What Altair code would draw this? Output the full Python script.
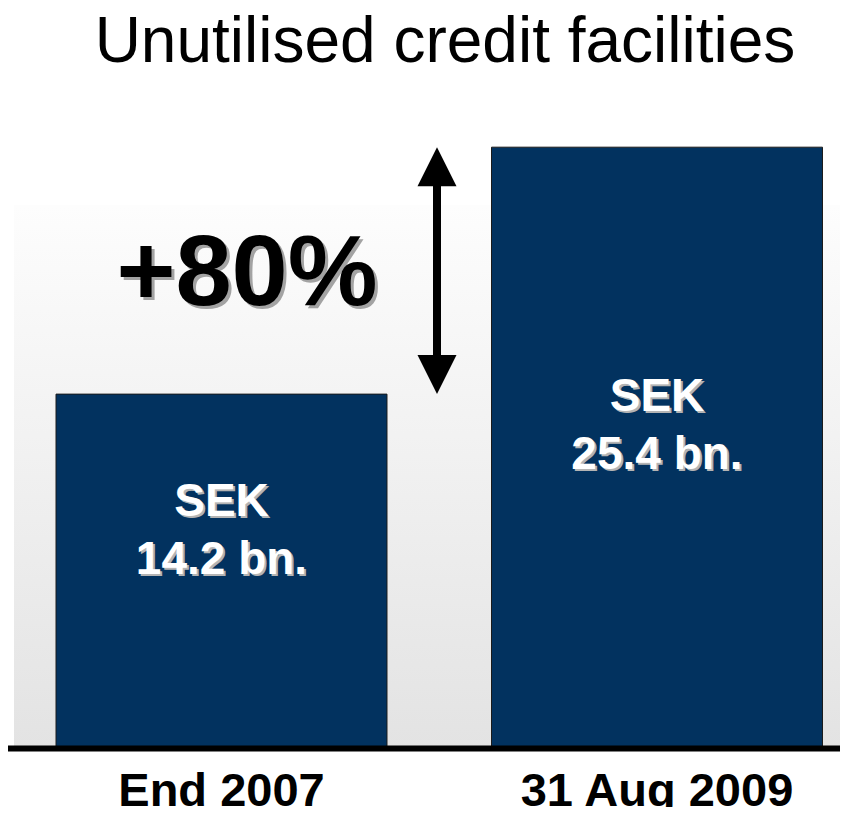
import altair as alt
import pandas as pd

# ---- data ----
CATEGORIES = ["End 2007", "31 Aug 2009"]
VALUES = [14.2, 25.4]
BAR_LABELS = ["SEK\n14.2 bn.", "SEK\n25.4 bn."]
CHANGE_LABEL = "+80%"
TITLE = "Unutilised credit facilities"

# the reference bars are not drawn to a zero-based scale; this domain reproduces their heights
Y_MIN, Y_MAX = -1.85, 27.54

# ---- layout / style ----
W, H = 832, 648
FONT = "Liberation Sans"
BAR_COLOR = "#02325f"
LABEL_DY = {"End 2007": 108, "31 Aug 2009": 250}

bars_df = pd.DataFrame({"period": CATEGORIES, "value": VALUES, "label": BAR_LABELS})
arrow_df = pd.DataFrame({
    "top": [max(VALUES)],
    "bottom": [min(VALUES)],
    "mid": [sum(VALUES) / 2],
    "text": [CHANGE_LABEL],
})

y_scale = alt.Scale(domain=[Y_MIN, Y_MAX], zero=False, nice=False)
x_enc = alt.X(
    "period:N",
    sort=CATEGORIES,
    scale=alt.Scale(range=[-4.25, 866.75], paddingInner=0, paddingOuter=0),
    axis=alt.Axis(
        title=None, labelAngle=0, ticks=False, tickSize=0, grid=False,
        domain=True, domainColor="black", domainWidth=6,
        labelFont=FONT, labelFontSize=47, labelFontWeight="bold", labelColor="black",
        labelPadding=57, labelBaseline="alphabetic", labelLimit=0, zindex=1,
    ),
)

background = alt.Chart(pd.DataFrame({"a": [0]})).mark_rect(
    fill=alt.Gradient(
        gradient="linear",
        stops=[alt.GradientStop(color="#fdfdfd", offset=0),
               alt.GradientStop(color="#e3e3e3", offset=1)],
        x1=0, x2=0, y1=0, y2=1,
    )
).encode(x=alt.value(6), x2=alt.value(W), y=alt.value(105), y2=alt.value(H))

bars = alt.Chart(bars_df).mark_bar(
    color=BAR_COLOR, stroke="#1b1b1b", strokeWidth=1, width=alt.RelativeBandSize(0.76)
).encode(
    x=x_enc,
    y=alt.Y("value:Q", scale=y_scale, axis=None),
    y2=alt.datum(Y_MIN),
)

label_layers = []
for cat in CATEGORIES:
    base = alt.Chart(bars_df).transform_filter(alt.datum.period == cat)
    for color, off in (("#b4b4b4", 2), ("white", 0)):
        label_layers.append(
            base.mark_text(
                font=FONT, fontSize=46, fontWeight="bold", color=color,
                lineBreak="\n", lineHeight=58, baseline="middle", align="center",
                dx=off, dy=LABEL_DY[cat] + off,
            ).encode(x=alt.X("period:N", sort=CATEGORIES),
                     y=alt.Y("value:Q", scale=y_scale), text="label:N")
        )

ARROW_X = 429
arrow_line = alt.Chart(arrow_df).mark_rule(
    color="black", strokeWidth=8, yOffset=20, y2Offset=-20
).encode(x=alt.value(ARROW_X), y=alt.Y("top:Q", scale=y_scale), y2="bottom:Q")
head_up = alt.Chart(arrow_df).mark_point(
    shape="M0,0L-1,2L1,2Z", filled=True, fill="black", opacity=1, size=1521, strokeWidth=0
).encode(x=alt.value(ARROW_X), y=alt.Y("top:Q", scale=y_scale))
head_down = alt.Chart(arrow_df).mark_point(
    shape="M0,0L-1,-2L1,-2Z", filled=True, fill="black", opacity=1, size=1521, strokeWidth=0
).encode(x=alt.value(ARROW_X), y=alt.Y("bottom:Q", scale=y_scale))

change_layers = [
    alt.Chart(arrow_df).mark_text(
        font=FONT, fontSize=101, fontWeight="bold", color=color,
        baseline="middle", align="center", dx=off, dy=4 + off,
    ).encode(x=alt.value(239), y=alt.Y("mid:Q", scale=y_scale), text="text:N")
    for color, off in (("#a3a3a3", 3), ("black", 0))
]

title = alt.Chart(pd.DataFrame({"t": [TITLE]})).mark_text(
    font=FONT, fontSize=64, color="black", baseline="alphabetic", align="center"
).encode(x=alt.value(437), y=alt.value(-38), text="t:N")

chart = alt.layer(
    background, bars, *label_layers, arrow_line, head_up, head_down, *change_layers, title
).properties(
    width=W, height=H,
    autosize=alt.AutoSizeParams(type="none"),
    padding={"left": 0, "top": 92, "right": 0, "bottom": 59},
    background="white",
).configure_view(stroke=None)

chart.save("out.html", embed_options={"renderer": "svg", "actions": False})
